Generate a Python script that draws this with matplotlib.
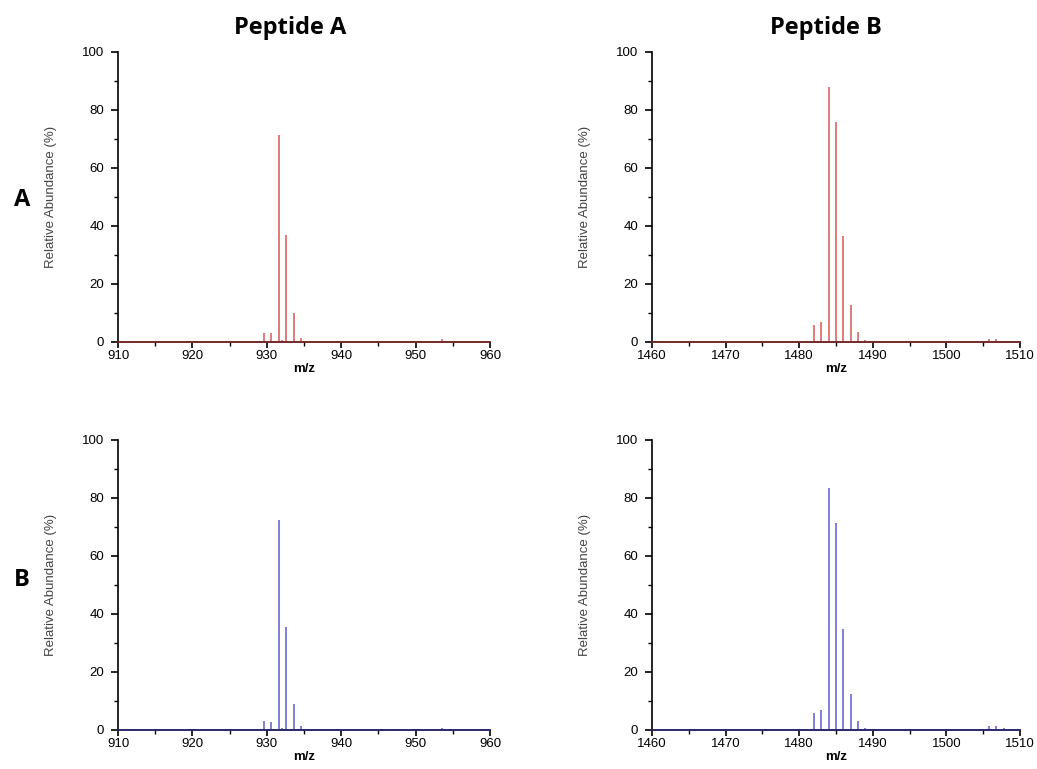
import numpy as np
import matplotlib.pyplot as plt
from matplotlib.ticker import MultipleLocator

# centroid peaks: (m/z, relative abundance %)
pepA_mz = [924.6, 929.6, 930.6, 931.6, 932.1, 932.6, 933.6, 934.6, 947.5, 953.6, 954.6]
pepA_top = [0.5, 3.2, 3.0, 71.4, 0.6, 36.9, 10.1, 1.4, 0.3, 1.0, 0.4]
pepA_bot = [0.5, 3.0, 2.8, 72.4, 0.6, 35.6, 9.0, 1.4, 0.3, 0.8, 0.3]

pepB_mz = [1482.0, 1483.0, 1484.0, 1485.0, 1486.0, 1487.0, 1488.0, 1489.0,
           1505.8, 1506.8, 1507.8]
pepB_top = [5.7, 6.8, 88.0, 75.7, 36.7, 12.6, 3.3, 0.7, 1.0, 1.2, 0.5]
pepB_bot = [5.9, 6.9, 83.3, 71.3, 34.8, 12.3, 3.2, 0.8, 1.5, 1.3, 0.6]

xlimA = (910, 960)
xlimB = (1460, 1510)

red = '#e07a7a'
red_base = '#8a2f2f'
blue = '#7f7fdc'
blue_base = '#2f2f7a'

plt.rcParams['font.family'] = ['Liberation Sans', 'DejaVu Sans']

fig = plt.figure(figsize=(10.37, 7.69), dpi=100)

W, H = 1037, 769
def axes_at(x0, x1, y0, y1):
    return fig.add_axes([x0 / W, 1 - y1 / H, (x1 - x0) / W, (y1 - y0) / H])

panels = [
    (axes_at(118, 490, 52, 342), pepA_mz, pepA_top, xlimA, red, red_base),
    (axes_at(652, 1020, 52, 342), pepB_mz, pepB_top, xlimB, red, red_base),
    (axes_at(118, 490, 440, 730), pepA_mz, pepA_bot, xlimA, blue, blue_base),
    (axes_at(652, 1020, 440, 730), pepB_mz, pepB_bot, xlimB, blue, blue_base),
]

for ax, mz, ab, xlim, col, base in panels:
    ax.vlines(mz, 0, ab, color=col, lw=1.4)
    ax.plot(xlim, [0, 0], color=base, lw=1.2, clip_on=False, zorder=3)
    ax.set_xlim(*xlim)
    ax.set_ylim(0, 100)
    for s in ['top', 'right']:
        ax.spines[s].set_visible(False)
    ax.spines['left'].set_linewidth(1.2)
    ax.spines['bottom'].set_linewidth(1.2)
    ax.xaxis.set_major_locator(MultipleLocator(10))
    ax.xaxis.set_minor_locator(MultipleLocator(5))
    ax.yaxis.set_major_locator(MultipleLocator(20))
    ax.yaxis.set_minor_locator(MultipleLocator(10))
    ax.tick_params(axis='x', which='major', direction='out', length=4, width=1.2,
                   labelsize=9.5, pad=1.5)
    ax.tick_params(axis='y', which='major', direction='out', length=5, width=1.2,
                   labelsize=9.5, pad=5)
    ax.tick_params(which='minor', direction='out', length=3, width=1)
    ax.set_ylabel('Relative Abundance (%)', fontsize=9.5, color='#444444', labelpad=18)
    ax.set_xlabel('m/z', fontsize=9.5, fontweight='bold', labelpad=1)

fig.text(290 / W, 1 - 28 / H, 'Peptide A', fontsize=17, fontweight='bold',
         family=['Open Sans', 'DejaVu Sans'], ha='center', va='center')
fig.text(826 / W, 1 - 28 / H, 'Peptide B', fontsize=17, fontweight='bold',
         family=['Open Sans', 'DejaVu Sans'], ha='center', va='center')
fig.text(22 / W, 1 - 200 / H, 'A', fontsize=17, fontweight='bold',
         family=['Open Sans', 'DejaVu Sans'], ha='center', va='center')
fig.text(22 / W, 1 - 580 / H, 'B', fontsize=17, fontweight='bold',
         family=['Open Sans', 'DejaVu Sans'], ha='center', va='center')

fig.savefig('out.png', dpi=100)
